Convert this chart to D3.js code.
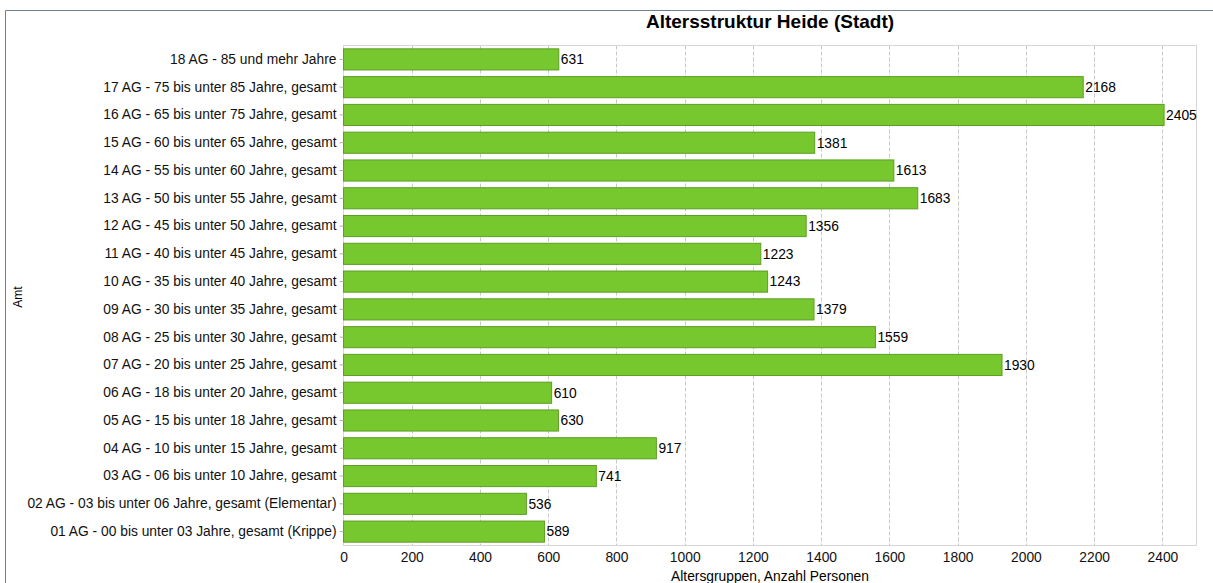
<!DOCTYPE html>
<html>
<head>
<meta charset="utf-8">
<script src="https://cdn.jsdelivr.net/npm/d3@7"></script>
<style>
  body { margin: 0; background: #fff; font-family: "Liberation Sans", Arial, sans-serif; }
  svg text { font-family: "Liberation Sans", Arial, sans-serif; }
</style>
</head>
<body>
<script>
// chart data
const categories = [
  "18 AG - 85 und mehr Jahre",
  "17 AG - 75 bis unter 85 Jahre, gesamt",
  "16 AG - 65 bis unter 75 Jahre, gesamt",
  "15 AG - 60 bis unter 65 Jahre, gesamt",
  "14 AG - 55 bis unter 60 Jahre, gesamt",
  "13 AG - 50 bis unter 55 Jahre, gesamt",
  "12 AG - 45 bis unter 50 Jahre, gesamt",
  "11 AG - 40 bis unter 45 Jahre, gesamt",
  "10 AG - 35 bis unter 40 Jahre, gesamt",
  "09 AG - 30 bis unter 35 Jahre, gesamt",
  "08 AG - 25 bis unter 30 Jahre, gesamt",
  "07 AG - 20 bis unter 25 Jahre, gesamt",
  "06 AG - 18 bis unter 20 Jahre, gesamt",
  "05 AG - 15 bis unter 18 Jahre, gesamt",
  "04 AG - 10 bis unter 15 Jahre, gesamt",
  "03 AG - 06 bis unter 10 Jahre, gesamt",
  "02 AG - 03 bis unter 06 Jahre, gesamt (Elementar)",
  "01 AG - 00 bis unter 03 Jahre, gesamt (Krippe)"
]
const values = [631, 2168, 2405, 1381, 1613, 1683, 1356, 1223, 1243, 1379, 1559, 1930, 610, 630, 917, 741, 536, 589]
const xTicks = [0, 200, 400, 600, 800, 1000, 1200, 1400, 1600, 1800, 2000, 2200, 2400]

const title = "Altersstruktur Heide (Stadt)"
const xTitle = "Altersgruppen, Anzahl Personen"
const yTitle = "Amt"

const width = 1213, height = 583
const plot = { left: 343.5, top: 45.5, right: 1196.5, bottom: 545.5 }
const fs = 13.8

let svg = d3.select("body").append("svg")
    .attr("width", width).attr("height", height)

// outer frame
svg.append("path")
    .attr("d", "M5.5," + height + "V10.5H" + width)
    .attr("fill", "none").attr("stroke", "#6e7f8d").attr("stroke-width", 1)

let xScale = d3.scaleLinear().domain([0, 2500]).range([plot.left, plot.right])
let yScale = d3.scaleBand().domain(categories).range([plot.top, plot.bottom])
    .paddingInner(0.24).paddingOuter(0.12)

// grid lines
svg.append("g").selectAll("line")
    .data(xTicks.slice(1)).enter().append("line")
    .attr("x1", d => Math.round(xScale(d)) + 0.5)
    .attr("x2", d => Math.round(xScale(d)) + 0.5)
    .attr("y1", plot.top).attr("y2", plot.bottom)
    .attr("stroke", "#c8c8c8").attr("stroke-dasharray", "4,2")

// plot border
svg.append("rect")
    .attr("x", plot.left).attr("y", plot.top)
    .attr("width", plot.right - plot.left).attr("height", plot.bottom - plot.top)
    .attr("fill", "none").attr("stroke", "#d3d6da")

// bars
svg.append("g").selectAll("rect")
    .data(values).enter().append("rect")
    .attr("x", xScale(0))
    .attr("y", (d, i) => yScale(categories[i]))
    .attr("width", d => xScale(d) - xScale(0))
    .attr("height", yScale.bandwidth())
    .attr("fill", "#77c82e")
    .attr("stroke", "#5c9f22").attr("stroke-width", 1)

// value labels
svg.append("g").selectAll("text")
    .data(values).enter().append("text")
    .attr("x", d => xScale(d) + 2)
    .attr("y", (d, i) => yScale(categories[i]) + yScale.bandwidth() / 2)
    .attr("dy", "0.35em")
    .attr("font-size", fs).attr("fill", "#000")
    .text(d => d)

// y axis
let yAxis = svg.append("g")
    .attr("transform", "translate(" + plot.left + ",0)")
    .call(d3.axisLeft(yScale).tickSize(4).tickPadding(3))
yAxis.select(".domain").remove()
yAxis.selectAll("line").attr("stroke", "#b0b0b0")
yAxis.selectAll("text").attr("font-size", fs).attr("fill", "#111")

// x axis
let xAxis = svg.append("g")
    .attr("transform", "translate(0," + plot.bottom + ")")
    .call(d3.axisBottom(xScale).tickValues(xTicks).tickFormat(d3.format("d")).tickSize(0).tickPadding(7))
xAxis.select(".domain").remove()
xAxis.selectAll("text").attr("font-size", fs).attr("fill", "#111")

// titles
svg.append("text").attr("x", 770).attr("y", 28)
    .attr("text-anchor", "middle").attr("font-size", 19).attr("font-weight", "bold")
    .text(title)
svg.append("text").attr("x", 770).attr("y", 581)
    .attr("text-anchor", "middle").attr("font-size", fs)
    .text(xTitle)
svg.append("text")
    .attr("transform", "translate(22,297) rotate(-90)")
    .attr("text-anchor", "middle").attr("font-size", 12)
    .text(yTitle)
</script>
</body>
</html>
